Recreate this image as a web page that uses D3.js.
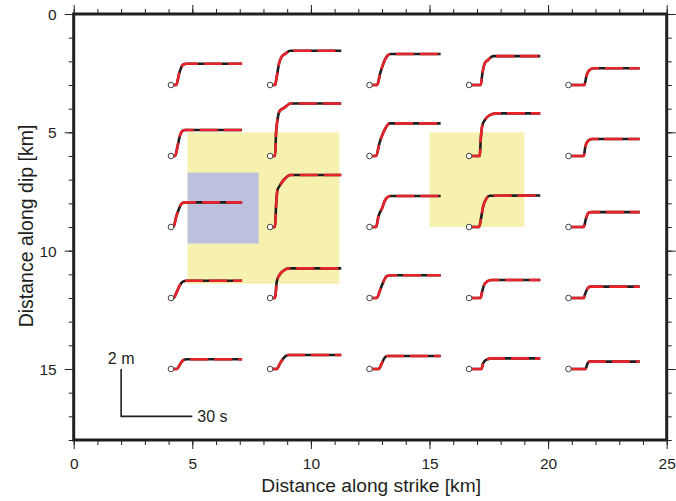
<!DOCTYPE html>
<html><head><meta charset="utf-8">
<script src="https://cdn.jsdelivr.net/npm/d3@7"></script>
<style>
html,body{margin:0;padding:0;background:#fff;}
svg{display:block;font-family:"Liberation Sans",Arial,Helvetica,sans-serif;}
</style></head>
<body><svg id="chart" width="676" height="501"></svg>
<script>
// ---- data ----
const xTicks = [0, 5, 10, 15, 20, 25];
const yTicks = [0, 5, 10, 15];
const xTitle = "Distance along strike [km]";
const yTitle = "Distance along dip [km]";

// station positions (km)
const stationStrike = [4.1, 8.28, 12.47, 16.67, 20.86];
const stationDip = [3, 6, 9, 12, 15];

// highlighted patches [x0, x1, y0, y1] in km
const yellowPatches = [[4.8, 11.2, 5.0, 11.4], [15.0, 19.0, 5.0, 9.0]];
const bluePatches = [[4.8, 7.8, 6.7, 9.7]];

// waveforms: [time s, displacement m], indexed [column][row]
const col0Waves = [
  [[0,0],[2.2,0],[3.5,0.5],[4.6,0.8],[5.4,0.88],[6.6,0.9],[30,0.9]],
  [[0,0],[1.8,0],[2.8,0.42],[3.9,0.89],[5.0,1.07],[6.0,1.10],[30,1.10]],
  [[0,0],[1.1,0.01],[2.2,0.43],[3.2,0.72],[4.6,1.0],[6.0,1.04],[30,1.04]],
  [[0,0],[1.1,0],[2.5,0.27],[3.6,0.51],[5.0,0.69],[6.7,0.73],[30,0.73]],
  [[0,0],[2.5,0],[3.9,0.21],[5.3,0.38],[6.7,0.41],[30,0.41]]
];
const col1Waves = [
  [[0,0],[2.1,0],[2.8,0.35],[3.8,0.92],[4.9,1.20],[6.7,1.34],[8.4,1.45],[30,1.45]],
  [[0,0],[2.1,0],[2.5,0.96],[3.1,1.52],[3.9,1.88],[5.6,2.02],[7.0,2.12],[8.4,2.22],[30,2.22]],
  [[0,0],[2.1,0],[2.5,0.86],[3.1,1.56],[4.2,1.77],[6.3,2.05],[8.4,2.20],[30,2.20]],
  [[0,0],[2.1,0],[2.8,0.69],[3.9,0.97],[5.6,1.15],[7.7,1.25],[30,1.25]],
  [[0,0],[2.8,0],[4.2,0.24],[5.6,0.45],[7.7,0.59],[30,0.59]]
];
const col2Waves = [
  [[0,0],[3.2,0],[4.5,0.49],[5.9,0.92],[7.3,1.2],[8.8,1.31],[30,1.31]],
  [[0,0],[2.8,0],[4.2,0.54],[5.7,0.96],[7.1,1.24],[8.5,1.38],[30,1.38]],
  [[0,0],[2.8,0],[3.8,0.46],[5.3,0.79],[6.6,1.14],[8.8,1.31],[30,1.31]],
  [[0,0],[3.1,0],[4.5,0.34],[5.7,0.65],[7.4,0.93],[9.5,0.96],[30,0.96]],
  [[0,0],[3.8,0],[5.2,0.24],[6.2,0.45],[7.4,0.55],[30,0.55]]
];
const col3Waves = [
  [[0,0],[4.9,0],[5.6,0.49],[6.6,0.92],[8.0,1.06],[10.1,1.22],[30,1.22]],
  [[0,0],[4.5,0],[4.9,0.70],[5.6,1.31],[6.6,1.52],[8.7,1.73],[11.5,1.80],[30,1.80]],
  [[0,0],[4.2,0],[4.9,0.30],[5.9,0.86],[7.3,1.21],[8.7,1.32],[30,1.33]],
  [[0,0],[4.8,0],[5.5,0.27],[6.3,0.55],[7.6,0.70],[9.4,0.76],[30,0.76]],
  [[0,0],[5.2,0],[5.9,0.24],[6.6,0.34],[8.0,0.42],[9.4,0.45],[30,0.45]]
];
const col4Waves = [
  [[0,0],[6.7,0],[7.5,0.35],[8.5,0.6],[10.6,0.71],[30,0.71]],
  [[0,0],[6.4,0],[7.1,0.39],[8.2,0.64],[9.9,0.72],[30,0.72]],
  [[0,0],[6.4,0],[7.4,0.37],[8.5,0.6],[9.9,0.63],[30,0.63]],
  [[0,0],[6.4,0],[7.1,0.2],[8.1,0.41],[9.2,0.48],[30,0.48]],
  [[0,0],[7.1,0],[8.1,0.24],[8.9,0.31],[30,0.31]]
];
const waveColumns = [col0Waves, col1Waves, col2Waves, col3Waves, col4Waves];

// scale bar: 30 s and 2 m, anchored at (2 km, 17 km)
const scaleBarOrigin = [2, 17];
const scaleTimeSec = 30;
const scaleDispM = 2;
const kmPerSec = 0.1;   // time scale of the waveform glyphs
const kmPerMetre = 1.0; // displacement scale of the waveform glyphs

// ---- drawing ----
const svg = d3.select("#chart");
const x = d3.scaleLinear().domain([0, 25]).range([73.7, 666.7]);
const y = d3.scaleLinear().domain([0, 18]).range([14, 440]);
const ink = "#231f20";

// patches
svg.append("g").selectAll("rect").data(yellowPatches).join("rect")
  .attr("x", d => x(d[0])).attr("y", d => y(d[2]))
  .attr("width", d => x(d[1]) - x(d[0])).attr("height", d => y(d[3]) - y(d[2]))
  .attr("fill", "#f7f1b0");
svg.append("g").selectAll("rect").data(bluePatches).join("rect")
  .attr("x", d => x(d[0])).attr("y", d => y(d[2]))
  .attr("width", d => x(d[1]) - x(d[0])).attr("height", d => y(d[3]) - y(d[2]))
  .attr("fill", "#bcc2dd");

// axes ticks (all four sides)
const minorVals = d3.range(0, 26, 1);
const minorValsY = d3.range(0, 19, 1);
function addAxis(axisFn, scale, vals, size, transform, labels) {
  const a = axisFn(scale).tickValues(vals).tickSize(size).tickSizeOuter(0);
  if (!labels) a.tickFormat("");
  const g = svg.append("g").attr("transform", transform).call(a);
  g.select(".domain").remove();
  g.selectAll(".tick line").attr("stroke", ink).attr("stroke-width", 1);
  return g;
}
addAxis(d3.axisBottom, x, minorVals, 5, `translate(0,${y(18)})`, false);
addAxis(d3.axisTop, x, minorVals, 5, `translate(0,${y(0)})`, false);
addAxis(d3.axisLeft, y, minorValsY, 5, `translate(${x(0)},0)`, false);
addAxis(d3.axisRight, y, minorValsY, 5, `translate(${x(25)},0)`, false);
const gb = addAxis(d3.axisBottom, x, xTicks, 9, `translate(0,${y(18)})`, true);
addAxis(d3.axisTop, x, xTicks, 9, `translate(0,${y(0)})`, false);
const gl = addAxis(d3.axisLeft, y, yTicks, 9, `translate(${x(0)},0)`, true);
addAxis(d3.axisRight, y, yTicks, 9, `translate(${x(25)},0)`, false);
gb.selectAll(".tick text").attr("y", 29).attr("dy", null)
  .attr("font-size", 15.5).attr("fill", ink).attr("font-family", null);
gl.selectAll(".tick text").attr("x", -17).attr("dy", "0.36em")
  .attr("font-size", 15.5).attr("fill", ink).attr("font-family", null);

// frame
svg.append("rect").attr("x", x(0)).attr("y", y(0))
  .attr("width", x(25) - x(0)).attr("height", y(18) - y(0))
  .attr("fill", "none").attr("stroke", ink).attr("stroke-width", 3);

// axis titles
svg.append("text").attr("x", (x(0) + x(25)) / 2 + 1).attr("y", 492)
  .attr("text-anchor", "middle").attr("font-size", 19.2).attr("fill", ink).text(xTitle);
svg.append("text").attr("transform", `translate(33,${(y(0) + y(18)) / 2 - 1}) rotate(-90)`)
  .attr("text-anchor", "middle").attr("font-size", 19.5).attr("fill", ink).text(yTitle);

// waveforms
const stations = [];
waveColumns.forEach((col, ci) => col.forEach((w, ri) => stations.push({sx: stationStrike[ci], sy: stationDip[ri], w})));
const lineFor = s => d3.line()
  .x(p => x(s.sx + p[0] * kmPerSec))
  .y(p => y(s.sy - p[1] * kmPerMetre))
  .curve(d3.curveMonotoneX)(s.w);
const gw = svg.append("g");
gw.selectAll("path.obs").data(stations).join("path").attr("class", "obs")
  .attr("d", lineFor).attr("fill", "none").attr("stroke", "#1e1e1e")
  .attr("stroke-width", 2.6).attr("stroke-linejoin", "round");
gw.selectAll("path.syn").data(stations).join("path").attr("class", "syn")
  .attr("d", lineFor).attr("fill", "none").attr("stroke", "#e8232a")
  .attr("stroke-width", 2.6).attr("stroke-dasharray", "18,6").attr("stroke-linejoin", "round");
gw.selectAll("circle").data(stations).join("circle")
  .attr("cx", s => x(s.sx)).attr("cy", s => y(s.sy)).attr("r", 2.8)
  .attr("fill", "#fff").attr("stroke", "#444").attr("stroke-width", 1);

// scale bar
const sb = svg.append("g");
const bx = scaleBarOrigin[0], by = scaleBarOrigin[1];
sb.append("path")
  .attr("d", d3.line()([[x(bx), y(by - scaleDispM * kmPerMetre)], [x(bx), y(by)], [x(bx + scaleTimeSec * kmPerSec), y(by)]]))
  .attr("fill", "none").attr("stroke", ink).attr("stroke-width", 1.6);
sb.append("text").attr("x", x(bx)).attr("y", y(by - scaleDispM * kmPerMetre) - 5)
  .attr("text-anchor", "middle").attr("font-size", 16).attr("fill", ink).text(scaleDispM + " m");
sb.append("text").attr("x", x(bx + scaleTimeSec * kmPerSec) + 5).attr("y", y(by)).attr("dy", "0.36em")
  .attr("font-size", 16).attr("fill", ink).text(scaleTimeSec + " s");
</script></body></html>
